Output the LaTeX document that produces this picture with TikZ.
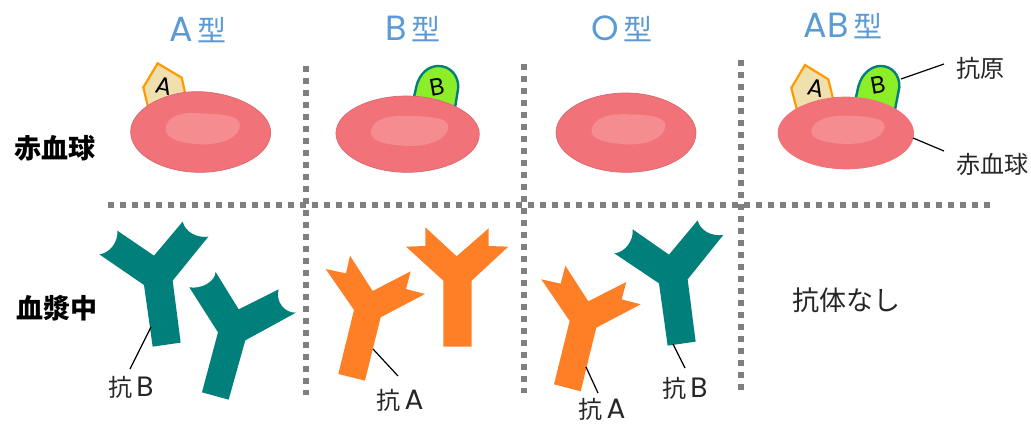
\documentclass[tikz,border=0pt]{standalone}
\usepackage{fontspec}
\setmainfont{Noto Sans CJK JP}
\newfontfamily\latinface{Poppins}
\newcommand{\headletter}[1]{{\latinface\fontsize{35}{35}\selectfont #1}}
\newcommand{\noteletter}[1]{{\latinface\fontsize{28}{28}\selectfont #1}}
\definecolor{titleblue}{HTML}{5B9BD5}
\definecolor{cellred}{HTML}{F2727A}
\definecolor{cellrim}{HTML}{D9686F}
\definecolor{cellglow}{HTML}{F58C90}
\definecolor{teal}{HTML}{007F7B}
\definecolor{antiorange}{HTML}{FF7F27}
\definecolor{lime}{HTML}{8CEE28}
\definecolor{cream}{HTML}{F0E0AE}
\definecolor{rimorange}{HTML}{FF9A00}
\definecolor{gridgray}{HTML}{7F7F7F}
\tikzset{
  grid line/.style={draw=gridgray,line width=6pt,dash pattern=on 6pt off 6pt},
  type title/.style={text=titleblue,font=\fontsize{29}{29}\selectfont,inner sep=0pt},
  row label/.style={font=\fontsize{27}{27}\selectfont\bfseries,inner sep=0pt},
  note/.style={font=\fontsize{24}{24}\selectfont,inner sep=0pt,text=black!85},
  leader/.style={draw=black,line width=1.2pt},
  cell body/.style={fill=cellred,draw=cellrim,line width=0.7pt},
  cell glow/.style={fill=cellglow,draw=none},
  antigen a/.style={fill=cream,draw=rimorange,line width=2.2pt,line join=miter},
  antigen b/.style={fill=lime,draw=teal,line width=2.4pt},
  antigen letter/.style={font=\latinface\fontsize{24}{24}\selectfont,inner sep=0pt},
  antibody b/.style={fill=teal,draw=none},
  antibody a/.style={fill=antiorange,draw=none},
  local/.style={x=0.3333pt,y=-0.3333pt}
}
\begin{document}
\begin{tikzpicture}[x=1pt,y=-1pt]
\useasboundingbox (0,0) rectangle (1031,428);
\fill[white] (0,0) rectangle (1031,428);

% dotted grid
\coordinate (h0) at (108,205); \coordinate (h1) at (992,205);
\coordinate (v1a) at (306,66);  \coordinate (v1b) at (306,395);
\coordinate (v2a) at (524,64);  \coordinate (v2b) at (524,393);
\coordinate (v3a) at (741,60);  \coordinate (v3b) at (741,395);
\draw[grid line] (h0) -- (h1);
\draw[grid line] (v1a) -- (v1b);
\draw[grid line] (v2a) -- (v2b);
\draw[grid line] (v3a) -- (v3b);

% column headings
\node[type title] (ta) at (198,30) {\headletter{A}\,型};
\node[type title] (tb) at (413,29) {\headletter{B}\,型};
\node[type title] (to) at (622,29) {\headletter{O}\,型};
\node[type title] (tab) at (843,26) {\headletter{AB}\,型};

% row headings
\node[row label] (r1) at (55,148) {赤血球};
\node[row label] (r2) at (57,308) {血漿中};

% antigens and cell of group A
\begin{scope}[shift={(100,0)},local]
\draw[antigen a] (173,190) -- (245,233) -- (258,290) -- (145,325) -- (130,262) -- cycle;
\node[antigen letter,rotate=-12] (la) at (193,258) {A};
\draw[cell body] (92,395) .. controls (92,330) and (190,275) .. (290,275)
  .. controls (400,275) and (512,330) .. (512,398)
  .. controls (512,470) and (400,517) .. (300,517)
  .. controls (190,517) and (92,465) .. (92,395) -- cycle;
\fill[cell glow] (197,385) .. controls (200,350) and (240,335) .. (300,340)
  .. controls (360,342) and (420,345) .. (420,375)
  .. controls (420,410) and (370,435) .. (300,433)
  .. controls (250,430) and (195,420) .. (197,385) -- cycle;
\end{scope}

% antigen and cell of group B
\begin{scope}[shift={(100,0)},local]
\draw[antigen b] (940,300) -- (948,265) .. controls (958,215) and (990,198) .. (1015,198)
  .. controls (1050,198) and (1075,225) .. (1075,262) -- (1065,325) -- cycle;
\node[antigen letter,rotate=10] (lb) at (1012,262) {B};
\draw[cell body] (708,400) .. controls (708,335) and (810,288) .. (920,288)
  .. controls (1030,288) and (1138,340) .. (1138,402)
  .. controls (1138,470) and (1030,517) .. (920,517)
  .. controls (810,517) and (708,465) .. (708,400) -- cycle;
\fill[cell glow] (813,392) .. controls (820,355) and (870,345) .. (930,348)
  .. controls (990,350) and (1045,352) .. (1045,380)
  .. controls (1045,415) and (990,440) .. (925,438)
  .. controls (860,435) and (808,425) .. (813,392) -- cycle;
\end{scope}

% cell of group O
\begin{scope}[shift={(526,0)},local]
\draw[cell body] (90,398) .. controls (90,330) and (190,279) .. (300,279)
  .. controls (410,279) and (510,335) .. (510,398)
  .. controls (510,470) and (410,517) .. (300,517)
  .. controls (190,517) and (90,465) .. (90,398) -- cycle;
\fill[cell glow] (197,388) .. controls (205,352) and (250,340) .. (310,343)
  .. controls (370,345) and (420,350) .. (418,378)
  .. controls (415,412) and (370,435) .. (305,433)
  .. controls (245,430) and (190,420) .. (197,388) -- cycle;
\end{scope}

% antigens and cell of group AB
\begin{scope}[shift={(740,0)},local]
\draw[antigen a] (195,195) -- (265,238) -- (280,300) -- (172,335) -- (154,264) -- cycle;
\node[antigen letter,rotate=-12] (lc) at (227,263) {A};
\draw[antigen b] (346,300) -- (355,260) .. controls (365,220) and (395,198) .. (422,198)
  .. controls (458,198) and (480,228) .. (478,262) -- (464,335) -- cycle;
\node[antigen letter,rotate=10] (ld) at (415,256) {B};
\draw[cell body,draw=none] (113,398) .. controls (113,340) and (210,290) .. (318,290)
  .. controls (425,290) and (522,340) .. (522,400)
  .. controls (522,465) and (425,508) .. (318,508)
  .. controls (210,508) and (113,460) .. (113,398) -- cycle;
\fill[cell glow] (214,390) .. controls (222,358) and (270,345) .. (330,347)
  .. controls (390,350) and (436,355) .. (434,380)
  .. controls (430,412) and (385,432) .. (320,432)
  .. controls (265,430) and (208,420) .. (214,390) -- cycle;
\end{scope}

% antibodies in the column of group A
\begin{scope}[shift={(90,210)},local]
\fill[antibody b] (82,62) .. controls (85,95) and (60,130) .. (28,133) -- (162,225) -- (188,410) -- (272,398)
  -- (248,212) -- (355,80) .. controls (320,85) and (285,65) .. (278,35) -- (192,137) -- cycle;
\fill[antibody b] (377,186) .. controls (375,215) and (335,238) .. (298,232) -- (384,367) -- (336,547) -- (416,569)
  -- (466,391) -- (618,308) .. controls (585,310) and (555,275) .. (566,238) -- (446,298) -- cycle;
\end{scope}

% antibodies in the column of group B
\begin{scope}[shift={(320,210)},local]
\fill[antibody a] (90,137) -- (78,190) -- (17,177) -- (102,300) -- (55,492) -- (135,512) -- (182,322)
  -- (315,252) -- (258,237) -- (272,184) -- (158,243) -- cycle;
\fill[antibody a] (316,52) -- (316,108) -- (258,110) -- (370,212) -- (370,410) -- (455,410) -- (455,212)
  -- (565,110) -- (506,108) -- (506,55) -- (410,139) -- cycle;
\end{scope}

% antibodies in the column of group O
\begin{scope}[shift={(530,210)},local]
\fill[antibody a] (106,167) -- (92,221) -- (34,208) -- (119,333) -- (72,523) -- (152,544) -- (199,353)
  -- (332,283) -- (275,268) -- (289,216) -- (175,274) -- cycle;
\fill[antibody b] (308,58) .. controls (312,90) and (285,128) .. (253,130) -- (387,220) -- (413,407) -- (497,395)
  -- (473,208) -- (580,75) .. controls (545,80) and (510,62) .. (503,31) -- (417,134) -- cycle;
\end{scope}

% side notes
\node[note] (nk) at (980,68) {抗原};
\node[note] (ns) at (992,164) {赤血球};
\node[note] (nn) at (846,300) {\fontsize{27}{27}\selectfont 抗体なし};
\node[note] (n1) at (131,387) {抗\,\noteletter{B}};
\node[note] (n2) at (400,400) {抗\,\noteletter{A}};
\node[note] (n3) at (602,409) {抗\,\noteletter{A}};
\node[note] (n4) at (685,388) {抗\,\noteletter{B}};

% leader lines
\coordinate (p1) at (901,79);  \coordinate (q1) at (944,64);
\coordinate (p2) at (913,138); \coordinate (q2) at (944,151);
\coordinate (p3) at (151,327); \coordinate (q3) at (130,369);
\coordinate (p4) at (373,349); \coordinate (q4) at (398,376);
\coordinate (p5) at (586,367); \coordinate (q5) at (598,393);
\coordinate (p6) at (673,344); \coordinate (q6) at (685,368);
\draw[leader] (p1) -- (q1);
\draw[leader] (p2) -- (q2);
\draw[leader] (p3) -- (q3);
\draw[leader] (p4) -- (q4);
\draw[leader] (p5) -- (q5);
\draw[leader] (p6) -- (q6);
\end{tikzpicture}
\end{document}
